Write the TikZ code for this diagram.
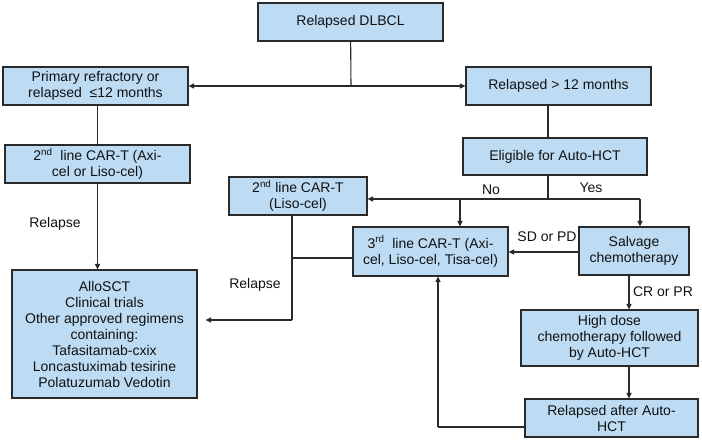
\documentclass[tikz,border=0pt]{standalone}
\usepackage{fontspec}
\setmainfont{Liberation Sans}
\usepackage{tikz}
\usetikzlibrary{arrows.meta, positioning}
\definecolor{txblue}{HTML}{BDDCF4}
\definecolor{txline}{HTML}{2A2A2A}
\definecolor{txtext}{HTML}{111111}

\begin{document}
\begin{tikzpicture}[
      x=1pt, y=-1pt,
      font=\fontsize{14}{16}\selectfont,
      box/.style={draw=txline, fill=txblue, text=txtext, line width=1.1pt,
                  align=center, inner sep=2pt},
      lbl/.style={text=txtext},
      ln/.style={txline, line width=1.1pt},
      ar/.style={-{Triangle[length=5.5pt,width=5pt]}, txline, line width=1.1pt},
    ]
    \useasboundingbox (0,0) rectangle (702,441);

    % ---------------- top
    \node[box, minimum width=185pt, minimum height=38pt] (dlbcl) at (350.5,22) {Relapsed DLBCL};
    \node[box, minimum width=185pt, minimum height=38pt] (prim) at (95.5,86)
      {Primary refractory or\\relapsed\ \ ≤12 months};
    \node[box, minimum width=185pt, minimum height=38pt] (late) at (558.5,86) {Relapsed > 12 months};
    \coordinate (split) at (351,86);
    \draw[ln] (dlbcl) -- (split);
    \draw[ar] (split) -- (prim);
    \draw[ar] (split) -- (late);

    % ---------------- left branch
    \node[box, minimum width=185pt, minimum height=38pt] (cara) at (97.5,164)
      {2\textsuperscript{nd}\ \ line CAR-T (Axi-\\cel or Liso-cel)};
    \node[box, minimum width=185pt, minimum height=128pt] (allo) at (104.5,334)
      {AlloSCT\\Clinical trials\\Other approved regimens\\containing:\\Tafasitamab-cxix\\Loncastuximab tesirine\\Polatuzumab Vedotin};
    \draw[ln] (cara.north |- prim.south) -- (cara);
    \draw[ar] (cara) -- (cara |- allo.north);
    \node[lbl] (rel1) at (55,224) {Relapse};

    % ---------------- right branch
    \node[box, minimum width=184pt, minimum height=37pt] (elig) at (555,156.5) {Eligible for Auto-HCT};
    \coordinate (split2) at (548,199);
    \draw[ln] (late.south -| split2) -- (elig.north -| split2);
    \draw[ln] (elig.south -| split2) -- (split2);
    \node[lbl] (no) at (491,190) {No};
    \node[lbl] (yes) at (591,188) {Yes};

    \node[box, minimum width=138pt, minimum height=38pt] (liso) at (298,196)
      {2\textsuperscript{nd} line CAR-T\\(Liso-cel)};
    \node[box, minimum width=155pt, minimum height=49pt] (third) at (430.5,251.5)
      {3\textsuperscript{rd}\ \ line CAR-T (Axi-\\cel, Liso-cel, Tisa-cel)};
    \node[box, minimum width=110pt, minimum height=48pt] (salv) at (634,251)
      {Salvage\\chemotherapy};
    \coordinate (noarm) at (460,199);
    \coordinate (yesarm) at (640,199);
    \draw[ar] (split2) -- (liso.east |- split2);
    \draw[ar] (noarm) -- (noarm |- third.north);
    \draw[ln] (split2) -- (yesarm);
    \draw[ar] (yesarm) -- (yesarm |- salv.north);
    \draw[ar] (salv.west |- 0,252) -- (third.east |- 0,252);
    \node[lbl] (sdpd) at (547,237) {SD or PD};

    % ---------------- relapse after CAR-T
    \coordinate (drop) at (292,320);
    \draw[ln] (liso.south -| drop) -- (drop);
    \draw[ln] (third.west |- 0,258) -- (drop |- 0,258);
    \draw[ar, shorten >=8pt] (drop) -- (allo.east |- drop);
    \node[lbl] (rel2) at (255,285) {Relapse};

    % ---------------- transplant
    \node[box, minimum width=177pt, minimum height=56pt] (hdc) at (609.5,338)
      {High dose\\chemotherapy followed\\by Auto-HCT};
    \node[box, minimum width=173pt, minimum height=38pt] (rauto) at (611.5,418)
      {Relapsed after Auto-\\HCT};
    \coordinate (cr) at (629,0);
    \draw[ar] (salv.south -| cr) -- (hdc.north -| cr);
    \node[lbl] (crpr) at (663,292) {CR or PR};
    \draw[ar] (hdc.south -| cr) -- (rauto.north -| cr);
    \coordinate (back) at (438,427);
    \draw[ln] (rauto.west |- back) -- (back);
    \draw[ar] (back) -- (back |- third.south);
  \end{tikzpicture}
\end{document}
